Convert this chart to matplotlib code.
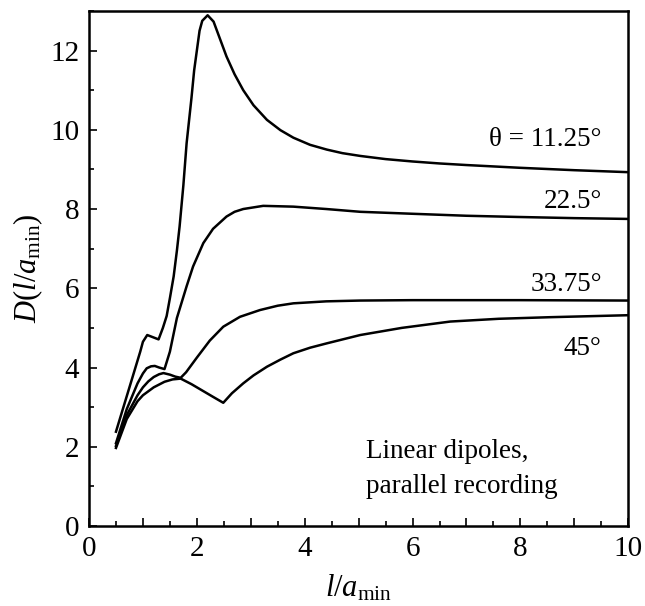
import matplotlib
matplotlib.use("Agg")
import matplotlib.pyplot as plt

# Werte
x_1125 = [0.5, 0.75, 0.95, 1.0, 1.08, 1.29, 1.37, 1.44, 1.5, 1.57, 1.63, 1.68, 1.75, 1.81, 1.9,
          1.95, 2.0, 2.05, 2.1, 2.2, 2.31, 2.4, 2.55, 2.7, 2.86, 3.05, 3.3, 3.55, 3.79, 4.1,
          4.41, 4.7, 5.03, 5.5, 6.0, 6.5, 7.0, 8.0, 9.0, 10.0]
y_1125 = [2.38, 3.5, 4.4, 4.65, 4.82, 4.71, 5.0, 5.3, 5.75, 6.3, 6.95, 7.56, 8.6, 9.66, 10.8,
          11.5, 12.0, 12.5, 12.75, 12.89, 12.73, 12.4, 11.85, 11.4, 11.0, 10.62, 10.25, 9.99, 9.8, 9.62,
          9.5, 9.41, 9.34, 9.26, 9.2, 9.15, 9.11, 9.04, 8.98, 8.93]

x_225 = [0.5, 0.7, 0.9, 1.0, 1.07, 1.15, 1.22, 1.3, 1.4, 1.5, 1.63, 1.81, 1.93, 2.12, 2.3,
         2.55, 2.7, 2.86, 3.23, 3.79, 4.4, 5.03, 6.0, 7.0, 7.94, 9.0, 10.0]
y_225 = [2.09, 2.95, 3.6, 3.85, 3.98, 4.03, 4.04, 4.0, 3.96, 4.4, 5.25, 6.05, 6.55, 7.14, 7.5,
         7.81, 7.93, 8.0, 8.08, 8.06, 8.0, 7.93, 7.88, 7.83, 7.8, 7.77, 7.75]

x_3375 = [0.5, 0.7, 0.9, 1.0, 1.1, 1.2, 1.3, 1.38, 1.5, 1.6, 1.7, 1.8, 2.0, 2.24, 2.49,
          2.8, 3.17, 3.5, 3.79, 4.4, 5.03, 6.0, 7.0, 8.0, 10.0]
y_3375 = [2.02, 2.8, 3.3, 3.5, 3.65, 3.76, 3.83, 3.86, 3.82, 3.77, 3.74, 3.88, 4.25, 4.68, 5.03,
          5.28, 5.45, 5.56, 5.62, 5.67, 5.69, 5.7, 5.7, 5.7, 5.69]

x_45 = [0.5, 0.7, 0.9, 1.0, 1.2, 1.4, 1.55, 1.7, 1.9, 2.1, 2.3, 2.49, 2.65, 2.86, 3.05,
        3.3, 3.55, 3.79, 4.1, 4.41, 5.03, 5.8, 6.7, 7.6, 8.55, 10.0]
y_45 = [1.97, 2.7, 3.15, 3.3, 3.5, 3.64, 3.7, 3.72, 3.58, 3.42, 3.26, 3.11, 3.35, 3.6, 3.8,
        4.02, 4.2, 4.36, 4.5, 4.61, 4.82, 5.0, 5.16, 5.23, 5.27, 5.32]

curves = [(x_1125, y_1125), (x_225, y_225), (x_3375, y_3375), (x_45, y_45)]
labels = ["θ = 11.25°", "22.5°", "33.75°", "45°"]
label_y = [9.58, 8.02, 5.94, 4.32]

x_ticks = list(range(0, 11))
x_ticklabels = [str(v) if v % 2 == 0 else "" for v in x_ticks]
y_ticks = list(range(0, 14))
y_ticklabels = [str(v) if v % 2 == 0 else "" for v in y_ticks]

# Schrift wie im Original (Times-aehnlich)
plt.rcParams["font.family"] = ["Liberation Serif", "DejaVu Serif"]
plt.rcParams["mathtext.fontset"] = "custom"
plt.rcParams["mathtext.rm"] = "Liberation Serif"
plt.rcParams["mathtext.it"] = "Liberation Serif:italic"
plt.rcParams["font.size"] = 19

fig = plt.figure(figsize=(6.45, 6.06), dpi=100)
ax = fig.add_axes([0.138, 0.132, 0.836, 0.85])

for xs, ys in curves:
    ax.plot(xs, ys, color="black", linewidth=1.8, solid_joinstyle="round")

for txt, yy in zip(labels, label_y):
    ax.text(9.51, yy, txt, ha="right", va="baseline", fontsize=19.5)

ax.text(5.13, 1.72, "Linear dipoles,", ha="left", va="baseline", fontsize=19.5)
ax.text(5.13, 0.83, "parallel recording", ha="left", va="baseline", fontsize=19.5)

ax.set_xlim(0, 10)
ax.set_ylim(0, 13)
ax.set_xticks(x_ticks)
ax.set_xticklabels(x_ticklabels)
ax.set_yticks(y_ticks)
ax.set_yticklabels(y_ticklabels)
ax.set_xticks([v + 0.5 for v in range(0, 10)], minor=True)
ax.tick_params(axis="both", which="major", direction="in", length=6, width=1.2, labelsize=21, pad=7)
ax.tick_params(axis="x", which="minor", direction="in", length=3.5, width=1.2)

# kurze Striche bei ungeraden y-Werten
for t, v in zip(ax.yaxis.get_major_ticks(), y_ticks):
    if v % 2 == 1:
        t.tick1line.set_markersize(3.5)

for s in ax.spines.values():
    s.set_linewidth(1.8)

ax.set_xlabel("$l/a_{\\mathrm{min}}$", fontsize=22, labelpad=8)
ax.set_ylabel("$D(l/a_{\\mathrm{min}})$", fontsize=22, labelpad=4)

fig.savefig("out.png", dpi=100)
